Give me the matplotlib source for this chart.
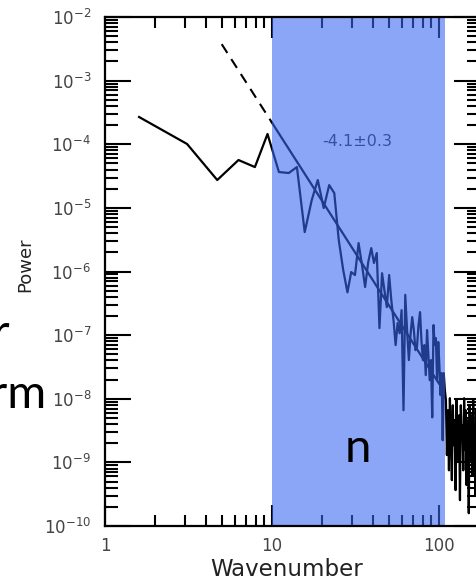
import matplotlib
matplotlib.use("Agg")
import matplotlib.pyplot as plt
from matplotlib.ticker import LogLocator, NullFormatter

# ---------------------------------
# Data
# ---------------------------------
wavenumber = [
    1.6, 3.1, 4.7, 6.3, 7.9, 9.4, 11.0, 12.6, 14.1, 15.7,
    17.3, 18.8, 20.4, 22.0, 23.6, 25.1, 26.7, 28.3, 29.8, 31.4,
    33.0, 34.6, 36.1, 37.7, 39.3, 40.8, 42.4, 44.0, 45.6, 47.1,
    48.7, 50.3, 51.8, 53.4, 55.0, 56.5, 58.1, 59.7, 61.3, 62.8,
    64.4, 66.0, 67.5, 69.1, 70.7, 72.3, 73.8, 75.4, 77.0, 78.5,
    80.1, 81.7, 83.3, 84.8, 86.4, 88.0, 89.5, 91.1, 92.7, 94.2,
    95.8, 97.4, 99.0, 100.5, 102.1, 103.7, 105.2, 106.8, 108.4, 110.0,
    111.5, 113.1, 114.7, 116.2, 117.8, 119.4, 121.0, 122.5, 124.1, 125.7,
    127.2, 128.8, 130.4, 131.9, 133.5, 135.1, 136.7, 138.2, 139.8, 141.4,
    142.9, 144.5, 146.1, 147.7, 149.2, 150.8, 152.4, 153.9, 155.5, 157.1,
    158.7, 160.2, 161.8, 163.4, 164.9, 166.5, 168.1, 169.6, 171.2, 172.8,
    174.4, 175.9,
]

power = [
    2.68e-4, 1.01e-4, 2.74e-5, 5.65e-5, 4.38e-5, 1.45e-4, 3.66e-5, 3.53e-5, 4.38e-5, 4.16e-6,
    1.33e-5, 2.74e-5, 9.93e-6, 2.28e-5, 1.71e-5, 3.12e-6, 1.05e-6, 4.7e-7, 9.8e-7, 8.8e-7,
    2.8e-6, 1.26e-6, 5.7e-7, 1.41e-6, 2.33e-6, 1.36e-6, 1.95e-6, 1.29e-7, 9.4e-7, 5.1e-7,
    2.76e-7, 8.8e-7, 3.55e-7, 1.72e-7, 6.97e-8, 1.55e-7, 1.07e-7, 2.47e-7, 6.6e-9, 4.3e-7,
    1.2e-7, 4.05e-8, 1.0e-7, 1.92e-7, 1.2e-7, 5.8e-8, 6.5e-8, 1.44e-7, 2.3e-7, 8.3e-8,
    4.05e-8, 6.97e-8, 2.35e-8, 1.2e-7, 4.85e-8, 1.96e-8, 4.05e-8, 5.1e-9, 1.44e-7, 6.97e-8,
    8.97e-8, 1.96e-8, 7.8e-8, 3.4e-8, 1.14e-8, 2.53e-8, 2.23e-9, 2.53e-8, 1.37e-8, 9.5e-9,
    1.3e-9, 6.6e-9, 7.5e-10, 1.02e-8, 3.2e-9, 5.25e-10, 7.9e-9, 1.86e-9, 4.6e-9, 3.66e-10,
    9.5e-9, 2.68e-9, 1.08e-9, 5.5e-9, 2.55e-10, 7.9e-9, 2.23e-9, 3.85e-9, 7.5e-10, 1.02e-8,
    1.56e-9, 6.6e-9, 4.4e-10, 4.6e-9, 2.23e-9, 1.59e-10, 7.9e-9, 3.2e-9, 1.08e-9, 5.5e-9,
    6.3e-10, 9.5e-9, 1.86e-9, 3.85e-9, 3.05e-10, 6.6e-9, 2.68e-9, 1.3e-9, 7.9e-9, 7.5e-10,
    4.6e-9, 2.23e-9,
]

# power-law fit over the inertial range
fit_slope = -4.1
fit_err = 0.3
fit_k0, fit_p0 = 10.0, 2.18e-4
fit_range = (10.0, 100.0)
dash_range = (5.0, 10.0)
band = (10.0, 108.5)


def fit_line(k):
    return fit_p0 * (k / fit_k0) ** fit_slope


# ---------------------------------
# Figure
# ---------------------------------
fig = plt.figure(figsize=(4.76, 5.79), dpi=100)
ax = fig.add_axes([105 / 476, 53 / 579, 375 / 476, 509 / 579])

ax.plot(wavenumber, power, color="black", lw=1.6, zorder=2)
ax.plot(list(fit_range), [fit_line(k) for k in fit_range], color="black", lw=1.6, zorder=2)
ax.plot(list(dash_range), [fit_line(k) for k in dash_range], color="black", lw=1.5,
        dashes=[5, 3.5], zorder=2)

ax.text(0.672, 0.756, f"-{abs(fit_slope)}\u00b1{fit_err}", transform=ax.transAxes,
        fontsize=11.5, color="#333333", ha="center", va="center", zorder=2)

# translucent highlight over the fit range
ax.axvspan(band[0], band[1], ymin=0, ymax=1, color=(0.22, 0.40, 0.95), alpha=0.58,
           lw=0, zorder=2.6)

ax.set_xscale("log")
ax.set_yscale("log")
ax.set_xlim(1, 176)
ax.set_ylim(1e-10, 1e-2)

ax.yaxis.set_major_locator(LogLocator(base=10, numticks=20))
ax.yaxis.set_minor_locator(LogLocator(base=10, subs=range(2, 10), numticks=100))
ax.xaxis.set_minor_locator(LogLocator(base=10, subs=range(2, 10), numticks=100))
ax.xaxis.set_minor_formatter(NullFormatter())
ax.yaxis.set_minor_formatter(NullFormatter())

ax.tick_params(axis="both", which="both", direction="in", top=True, right=True,
               width=1.5, colors="black", labelcolor="#444444", labelsize=12)
ax.tick_params(axis="y", which="major", length=18.5, pad=10)
ax.tick_params(axis="y", which="minor", length=9.5)
ax.tick_params(axis="x", which="major", length=15, pad=8)
ax.tick_params(axis="x", which="minor", length=8)
ax.set_xticks([1, 10, 100])
ax.set_xticklabels(["1", "10", "100"])

for sp in ax.spines.values():
    sp.set_linewidth(1.6)
    sp.set_zorder(3)

fig.text(287 / 476, 1 - 576 / 579, "Wavenumber", fontsize=16.5, color="#222222",
         ha="center", va="baseline")
fig.text(25 / 476, 1 - 265 / 579, "Power", fontsize=13, color="#222222",
         rotation=90, ha="center", va="center")

# slide captions running in from the left
fig.text(10 / 476, 1 - 347 / 579, "Fourier", fontsize=34, family="Lato",
         ha="right", va="baseline")
fig.text(46 / 476, 1 - 408 / 579, "transform", fontsize=34, family="Lato",
         ha="right", va="baseline")
ax.text(358 / 476, 1 - 462 / 579, "n", transform=fig.transFigure, fontsize=34,
        family="Lato", ha="center", va="baseline", zorder=4)

fig.savefig("out.png", dpi=100)
